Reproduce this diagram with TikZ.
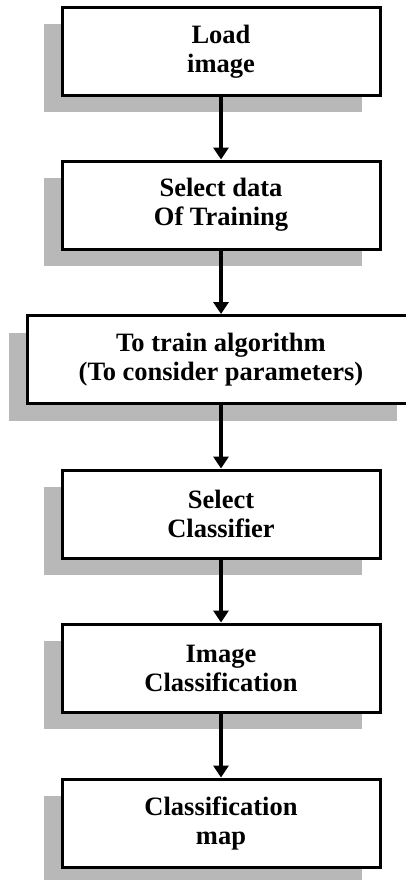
\documentclass[tikz,border=0pt]{standalone}
\usepackage{fontspec}
\setmainfont{Liberation Serif}
\usetikzlibrary{arrows.meta,shadows}
\begin{document}
\begin{tikzpicture}[x=1pt,y=-1pt,
  box/.style={draw=black, line width=3pt, fill=white, align=center,
    font=\fontsize{26.5}{29}\selectfont\bfseries, inner sep=0pt,
    minimum height=88pt,
    drop shadow={shadow xshift=-18pt, shadow yshift=-17pt, fill=black!28, opacity=1}},
  narrow/.style={box, minimum width=318pt},
  wide/.style={box, minimum width=388pt},
  arr/.style={line width=3.5pt, -{Triangle[width=15pt,length=12pt]}}]
\useasboundingbox (0,0) rectangle (405,880);
\node[narrow] (b1) at (221,51.5) {Load\\image};
\node[narrow] (b2) at (221,205) {Select data\\Of Training};
\node[wide]   (b3) at (221,359.5) {To train algorithm\\(To consider parameters)};
\node[narrow] (b4) at (221,514) {Select\\Classifier};
\node[narrow] (b5) at (221,668) {Image\\Classification};
\node[narrow] (b6) at (221,823) {Classification\\map};
\draw[arr] (b1.south) -- (b2.north);
\draw[arr] (b2.south) -- (b3.north);
\draw[arr] (b3.south) -- (b4.north);
\draw[arr] (b4.south) -- (b5.north);
\draw[arr] (b5.south) -- (b6.north);
\end{tikzpicture}
\end{document}
